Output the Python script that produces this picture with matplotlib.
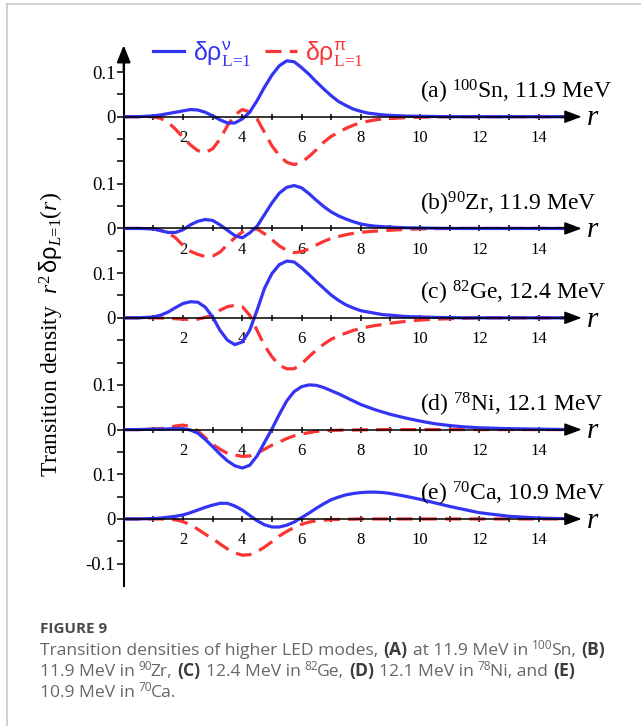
import matplotlib
matplotlib.use("Agg")
import matplotlib.pyplot as plt
from matplotlib.lines import Line2D

plt.rcParams["font.family"] = "Liberation Serif"
plt.rcParams["mathtext.fontset"] = "custom"
plt.rcParams["mathtext.rm"] = "Liberation Serif"
plt.rcParams["mathtext.it"] = "Liberation Serif:italic"
plt.rcParams["mathtext.bf"] = "Liberation Serif:bold"
plt.rcParams["mathtext.sf"] = "Liberation Sans"

# ---------------------------------------------------------------- data
r = [0.0, 0.5, 1.0, 1.25, 1.5, 1.75, 2.0, 2.25, 2.5, 2.75, 3.0, 3.25, 3.5,
     3.75, 4.0, 4.25, 4.5, 4.75, 5.0, 5.25, 5.5, 5.75, 6.0, 6.25, 6.5, 6.75,
     7.0, 7.25, 7.5, 7.75, 8.0, 8.25, 8.5, 8.75, 9.0, 9.5, 10.0, 10.5, 11.0,
     11.5, 12.0, 13.0, 14.0, 15.0]

# (a) 100Sn, 11.9 MeV
sn_nu = [0, 0, 0.002, 0.004, 0.007, 0.010, 0.013, 0.016, 0.015, 0.010, 0.002,
         -0.007, -0.014, -0.014, -0.005, 0.010, 0.036, 0.066, 0.093, 0.114,
         0.125, 0.123, 0.110, 0.095, 0.078, 0.062, 0.047, 0.034, 0.025, 0.017,
         0.012, 0.008, 0.006, 0.004, 0.003, 0.0015, 0.001, 0.0005, 0, 0, 0, 0,
         0, 0]
sn_pi = [0, 0, 0, -0.004, -0.013, -0.028, -0.046, -0.063, -0.076, -0.080,
         -0.072, -0.050, -0.020, 0.004, 0.016, 0.011, -0.005, -0.035, -0.065,
         -0.087, -0.102, -0.107, -0.102, -0.089, -0.074, -0.057, -0.044,
         -0.035, -0.026, -0.019, -0.013, -0.010, -0.007, -0.005, -0.004,
         -0.002, -0.001, -0.0005, 0, 0, 0, 0, 0, 0]

# (b) 90Zr, 11.9 MeV
zr_nu = [0, 0, -0.001, -0.005, -0.009, -0.009, -0.003, 0.008, 0.016, 0.020,
         0.018, 0.008, -0.004, -0.016, -0.021, -0.010, 0.005, 0.031, 0.057,
         0.079, 0.092, 0.096, 0.091, 0.078, 0.063, 0.049, 0.037, 0.028, 0.021,
         0.015, 0.010, 0.007, 0.005, 0.004, 0.003, 0.0015, 0.001, 0.0005, 0,
         0, 0, 0, 0, 0]
zr_pi = [0, 0, -0.001, -0.004, -0.010, -0.021, -0.038, -0.051, -0.058, -0.063,
         -0.062, -0.053, -0.036, -0.021, -0.008, -0.001, -0.001, -0.012,
         -0.025, -0.039, -0.049, -0.054, -0.052, -0.046, -0.037, -0.029,
         -0.022, -0.018, -0.014, -0.011, -0.009, -0.007, -0.006, -0.005,
         -0.004, -0.002, -0.001, -0.0005, 0, 0, 0, 0, 0, 0]

# (c) 82Ge, 12.4 MeV
ge_nu = [0, 0, 0.002, 0.006, 0.013, 0.023, 0.032, 0.036, 0.035, 0.024, 0.002,
         -0.028, -0.050, -0.060, -0.054, -0.028, 0.017, 0.066, 0.099, 0.119,
         0.127, 0.125, 0.112, 0.097, 0.081, 0.066, 0.051, 0.039, 0.029, 0.022,
         0.016, 0.013, 0.010, 0.007, 0.006, 0.003, 0.002, 0.001, 0.0005, 0, 0,
         0, 0, 0]
ge_pi = [0, 0, 0, -0.0005, -0.001, -0.002, -0.003, -0.004, -0.003, 0.001,
         0.006, 0.017, 0.025, 0.028, 0.025, 0.006, -0.028, -0.062, -0.087,
         -0.106, -0.114, -0.114, -0.103, -0.087, -0.072, -0.059, -0.048,
         -0.040, -0.034, -0.028, -0.024, -0.020, -0.017, -0.015, -0.012,
         -0.008, -0.005, -0.003, -0.002, -0.001, 0, 0, 0, 0]

# (d) 78Ni, 12.1 MeV
ni_nu = [0, 0, 0.001, 0.001, 0.0015, 0.002, 0.002, -0.001, -0.008, -0.022,
         -0.038, -0.055, -0.070, -0.081, -0.086, -0.080, -0.059, -0.029,
         0.001, 0.034, 0.064, 0.085, 0.096, 0.100, 0.099, 0.094, 0.087, 0.080,
         0.072, 0.064, 0.056, 0.050, 0.044, 0.039, 0.034, 0.026, 0.019, 0.013,
         0.009, 0.006, 0.004, 0.002, 0.001, 0]
ni_pi = [0, 0, 0.001, 0.002, 0.004, 0.008, 0.010, 0.007, -0.003, -0.018,
         -0.033, -0.044, -0.053, -0.057, -0.060, -0.059, -0.053, -0.044,
         -0.035, -0.028, -0.020, -0.014, -0.010, -0.007, -0.004, -0.003,
         -0.002, -0.0015, -0.001, -0.001, -0.0007, -0.0005, -0.0003, 0, 0, 0,
         0, 0, 0, 0, 0, 0, 0, 0]

# (e) 70Ca, 10.9 MeV
ca_nu = [0, 0, 0.001, 0.002, 0.004, 0.006, 0.009, 0.014, 0.020, 0.026, 0.031,
         0.035, 0.035, 0.029, 0.020, 0.008, -0.004, -0.013, -0.018, -0.018,
         -0.014, -0.007, 0.003, 0.013, 0.024, 0.034, 0.043, 0.049, 0.054,
         0.057, 0.059, 0.060, 0.060, 0.059, 0.057, 0.051, 0.044, 0.036, 0.028,
         0.021, 0.014, 0.006, 0.002, 0.0005]
ca_pi = [0, 0, 0, 0, -0.001, -0.002, -0.006, -0.013, -0.023, -0.034, -0.044,
         -0.056, -0.067, -0.076, -0.081, -0.080, -0.073, -0.063, -0.051,
         -0.038, -0.028, -0.019, -0.012, -0.007, -0.004, -0.003, -0.0015,
         -0.001, -0.0007, -0.0005, 0, 0, 0, 0, 0, 0, 0, 0, 0, 0, 0, 0, 0, 0]

panel_labels = [r"(a) $^{100}$Sn, 11.9 MeV", r"(b)$^{90}$Zr, 11.9 MeV",
                r"(c) $^{82}$Ge, 12.4 MeV", r"(d) $^{78}$Ni, 12.1 MeV",
                r"(e) $^{70}$Ca, 10.9 MeV"]
neutron = [sn_nu, zr_nu, ge_nu, ni_nu, ca_nu]
proton = [sn_pi, zr_pi, ge_pi, ni_pi, ca_pi]
baselines = [0.9, 0.65, 0.45, 0.2, 0.0]          # vertical offset of each panel

ytick_pos = [1.0, 0.9, 0.75, 0.65, 0.55, 0.45, 0.3, 0.2, 0.1, 0.0, -0.1]
ytick_txt = ["0.1", "0", "0.1", "0", "0.1", "0", "0.1", "0", "0.1", "0", "-0.1"]
yminor_pos = [0.95, 0.85, 0.8, 0.7, 0.6, 0.5, 0.4, 0.35, 0.25, 0.15, 0.05, -0.05]
xtick_pos = list(range(1, 15))
xtick_txt = [str(v) if v % 2 == 0 else "" for v in xtick_pos]

legend_labels = [r"$\mathsf{δρ}^{\mathsf{ν}}_{\text{L=1}}$",
                 r"$\mathsf{δρ}^{\mathsf{π}}_{\text{L=1}}$"]

BLUE = "#3434f4"
RED = "#fb3434"

# ---------------------------------------------------------------- figure
W, H = 641, 726
fig = plt.figure(figsize=(W / 100, H / 100), dpi=100)


def fx(px):
    return px / W


def fy(py):
    return 1 - py / H


YMIN, YMAX = -0.15, 1.06
XMAX = 15.5
rect = [fx(123.7), fy(586.0), 459.4 / W, (586.0 - 45.2) / H]

ax = fig.add_axes(rect)
ax.set_xlim(0, XMAX)
ax.set_ylim(YMIN, YMAX)
ax.patch.set_visible(False)
for s in ("top", "right", "bottom"):
    ax.spines[s].set_visible(False)
ax.spines["left"].set_linewidth(1.5)
ax.spines["left"].set_bounds(YMIN, 1.02)
ax.set_xticks([])
ax.set_yticks(ytick_pos)
ax.set_yticklabels(ytick_txt)
ax.set_yticks(yminor_pos, minor=True)
ax.tick_params(axis="y", which="both", direction="out", length=4.8,
               width=1.1, pad=1.2, labelsize=13.5)
ax.annotate("", xy=(0, YMAX), xytext=(0, 1.0),
            arrowprops=dict(arrowstyle="-|>,head_length=0.8,head_width=0.32",
                            mutation_scale=13, lw=1.5, color="black",
                            shrinkA=0, shrinkB=0),
            annotation_clip=False)

legend_handles = []
for i, off in enumerate(baselines):
    pax = fig.add_axes(rect)
    pax.set_xlim(0, XMAX)
    pax.set_ylim(YMIN - off, YMAX - off)
    pax.patch.set_visible(False)
    for s in ("top", "right", "left"):
        pax.spines[s].set_visible(False)
    pax.spines["bottom"].set_position(("data", 0))
    pax.spines["bottom"].set_bounds(0, 15)
    pax.spines["bottom"].set_linewidth(1.1)
    pax.set_yticks([])
    pax.set_xticks(xtick_pos)
    pax.set_xticklabels(xtick_txt)
    pax.tick_params(axis="x", direction="inout", length=5, width=1.1,
                    pad=7, labelsize=12)
    lp, = pax.plot(r, proton[i], color=RED, lw=2.3, dashes=(5, 2.6))
    ln, = pax.plot(r, neutron[i], color=BLUE, lw=2.3)
    if i == 0:
        legend_handles = [ln, lp]
    pax.annotate("", xy=(15.45, 0), xytext=(14.9, 0),
                 arrowprops=dict(arrowstyle="-|>,head_length=0.8,head_width=0.3",
                                 mutation_scale=13, lw=1.1, color="black",
                                 shrinkA=0, shrinkB=0),
                 annotation_clip=False)
    pax.text(15.83, -0.0195, r"$r$", fontsize=21, ha="center", va="baseline")
    pax.text(10.0, 0.041, panel_labels[i], fontsize=17,
             ha="left", va="baseline")

ax.legend(legend_handles, legend_labels, ncol=2, frameon=False,
          loc="upper left", bbox_to_anchor=(fx(153), fy(39)),
          bbox_transform=fig.transFigure, borderpad=0, borderaxespad=0,
          handlelength=1.25, handletextpad=0.35, columnspacing=0.55,
          fontsize=18, labelcolor="linecolor")

fig.text(fx(52), fy(477),
         r"Transition density  $r^{2}\,\mathsf{δρ}_{L\text{=1}}(r)$",
         rotation=90, ha="center", va="bottom", fontsize=17)

# frame lines around the figure panel
fig.add_artist(Line2D([fx(7), fx(7)], [fy(4), 0], color="#c4c4c4", lw=1.1,
                      transform=fig.transFigure))
fig.add_artist(Line2D([fx(7), 1], [fy(4), fy(4)], color="#c4c4c4", lw=1.1,
                      transform=fig.transFigure))

# ---------------------------------------------------------------- caption
CAP_FONT = "Open Sans"
CAP_SIZE = 12.6
GREY = "#676767"
DARK = "#3c3c3c"
SP = (" ", "sp")

caption_lines = [
    [("Transition densities of higher LED modes,", "n"), SP, ("(A)", "b"), SP,
     ("at 11.9 MeV in", "n"), SP, ("100", "s"), ("Sn,", "n"), SP, ("(B)", "b")],
    [("11.9 MeV in", "n"), SP, ("90", "s"), ("Zr,", "n"), SP, ("(C)", "b"), SP,
     ("12.4 MeV in", "n"), SP, ("82", "s"), ("Ge,", "n"), SP, ("(D)", "b"), SP,
     ("12.1 MeV in", "n"), SP, ("78", "s"), ("Ni, and", "n"), SP, ("(E)", "b")],
    [("10.9 MeV in", "n"), SP, ("70", "s"), ("Ca.", "n")],
]
caption_baselines = [655, 676, 697]

renderer = fig.canvas.get_renderer()
space_px = 0.26 * CAP_SIZE * 100 / 72


def draw_runs(x_px, base_py, runs):
    x = x_px
    for k, (s, kind) in enumerate(runs):
        if kind == "sp":
            nxt = runs[k + 1][1] if k + 1 < len(runs) else "n"
            x += space_px * (0.55 if nxt == "s" else 1.0)
            continue
        kw = dict(fontfamily=CAP_FONT, fontsize=CAP_SIZE, color=GREY,
                  va="baseline", ha="left")
        y = base_py
        if kind == "b":
            kw.update(fontweight="bold", color=DARK)
        elif kind == "s":
            kw.update(fontsize=CAP_SIZE * 0.68)
            y = base_py - 6
        t = fig.text(fx(x), fy(y), s, **kw)
        x = t.get_window_extent(renderer).x1 + (-1.2 if kind == "s" else 0.8)


fig.text(fx(40), fy(633), "FIGURE 9", fontfamily=CAP_FONT, fontsize=11,
         fontweight="bold", color="#4a4a4a", va="baseline")
for runs, b in zip(caption_lines, caption_baselines):
    draw_runs(40, b, runs)

fig.savefig("out.png", dpi=100)
